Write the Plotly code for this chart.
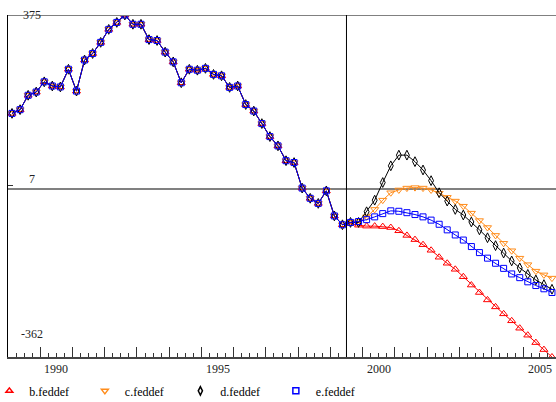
import plotly.graph_objects as go

# Quarterly periods 1989Q1 .. 2005Q4
quarters = [f"{y}Q{q}" for y in range(1989, 2006) for q in range(1, 5)]

# Shared history (1989Q1 .. 1999Q2)
history = [163, 171, 202, 209, 231, 222, 220, 258, 211, 278, 292, 316, 344, 359,
           375, 355, 355, 322, 320, 295, 274, 229, 258, 256, 260, 247, 244, 219,
           222, 182, 168, 141, 113, 93, 61, 57, 2, -20, -31, -4, -58, -77]

# Scenario paths (1999Q3 .. 2005Q4)
b_feddef = [-74, -78, -80, -80, -81, -83, -90, -100, -109, -120, -132, -147, -160,
            -173, -189, -207, -223, -239, -254, -269, -284, -300, -315, -331, -346, -362]
c_feddef = [-72, -70, -60, -44, -24, -8, -2, 2, 3, 2, -2, -9, -18,
            -26, -37, -52, -68, -83, -100, -117, -133, -149, -163, -177, -185, -192]
d_feddef = [-72, -72, -49, -24, 14, 50, 73, 73, 59, 41, 18, -8, -26,
            -44, -56, -71, -88, -105, -122, -138, -155, -170, -184, -196, -206, -216]
e_feddef = [-72, -70, -66, -60, -53, -47, -48, -51, -55, -60, -67, -76, -88,
            -99, -110, -124, -137, -149, -160, -171, -183, -191, -200, -208, -215, -223]

y_tick_vals = [375, 7, -362]
x_label_years = [1990, 1995, 2000, 2005]
forecast_start = 1999.5


def q_to_x(label):
    y, q = label.split("Q")
    return int(y) + (int(q) - 0.5) / 4.0


xq = [q_to_x(q) for q in quarters]

series = [
    ("b.feddef", b_feddef, "#FF0000", "triangle-up-open", 7),
    ("c.feddef", c_feddef, "#FF8C1A", "triangle-down-open", 7),
    ("d.feddef", d_feddef, "#000000", "diamond-tall-open", 7),
    ("e.feddef", e_feddef, "#0000FF", "square-open", 6),
]

fig = go.Figure()
for name, fc, color, sym, size in series:
    fig.add_trace(go.Scatter(
        x=xq, y=history + fc, mode="lines+markers", name=name,
        line=dict(color=color, width=1),
        marker=dict(symbol=sym, size=size, color=color, line=dict(width=1, color=color)),
        showlegend=False,
    ))
for name, fc, color, sym, size in series:
    fig.add_trace(go.Scatter(
        x=[None], y=[None], mode="markers", name=name,
        marker=dict(symbol=sym, size=6, color=color, line=dict(width=1.5, color=color)),
        showlegend=True,
    ))

annotations = []
for v, shift in zip(y_tick_vals, [0, 7, 23]):
    annotations.append(dict(text=str(v), xref="paper", x=0.044, xanchor="center",
                            yref="y", y=v, yanchor="middle", yshift=shift,
                            showarrow=False, font=dict(size=12, color="#222")))
for yr in x_label_years:
    annotations.append(dict(text=str(yr), xref="x", x=yr + 0.5, xanchor="center",
                            yref="paper", y=0, yanchor="middle", yshift=-12,
                            showarrow=False, font=dict(size=12, color="#222")))

fig.update_layout(
    width=556, height=402,
    margin=dict(l=8, r=0, t=15, b=45, autoexpand=False),
    paper_bgcolor="white", plot_bgcolor="white",
    font=dict(family="Liberation Serif, Times New Roman, serif", size=12, color="black"),
    xaxis=dict(range=[1989, 2006], tickmode="linear", tick0=1989, dtick=1,
               ticks="inside", ticklen=10, tickcolor="#333", showticklabels=False,
               showline=True, linecolor="#444", linewidth=1.5, showgrid=False,
               zeroline=False,
               minor=dict(ticks="inside", ticklen=4, tick0=1989, dtick=0.25,
                          tickcolor="#333", showgrid=False)),
    yaxis=dict(range=[-362, 375], tickmode="array", tickvals=y_tick_vals,
               ticks="inside", ticklen=5, tickcolor="#333", showticklabels=False,
               showline=True, linecolor="black", linewidth=1, showgrid=False,
               zeroline=True, zerolinecolor="#808080", zerolinewidth=2),
    shapes=[
        dict(type="line", xref="paper", x0=0, x1=1, yref="y", y0=375, y1=375,
             line=dict(color="#808080", width=2)),
        dict(type="line", xref="x", x0=forecast_start, x1=forecast_start,
             yref="paper", y0=0, y1=1, line=dict(color="black", width=1)),
    ],
    annotations=annotations,
    legend=dict(orientation="h", x=-0.034, xanchor="left", y=-0.099, yanchor="middle",
                entrywidth=50.5, entrywidthmode="pixels", bgcolor="rgba(0,0,0,0)",
                font=dict(size=12, color="black"), traceorder="normal"),
    showlegend=True,
)

fig.write_html("out.html", config={"displayModeBar": False},
               post_script="document.body.style.margin='0';document.body.style.overflow='hidden';")
